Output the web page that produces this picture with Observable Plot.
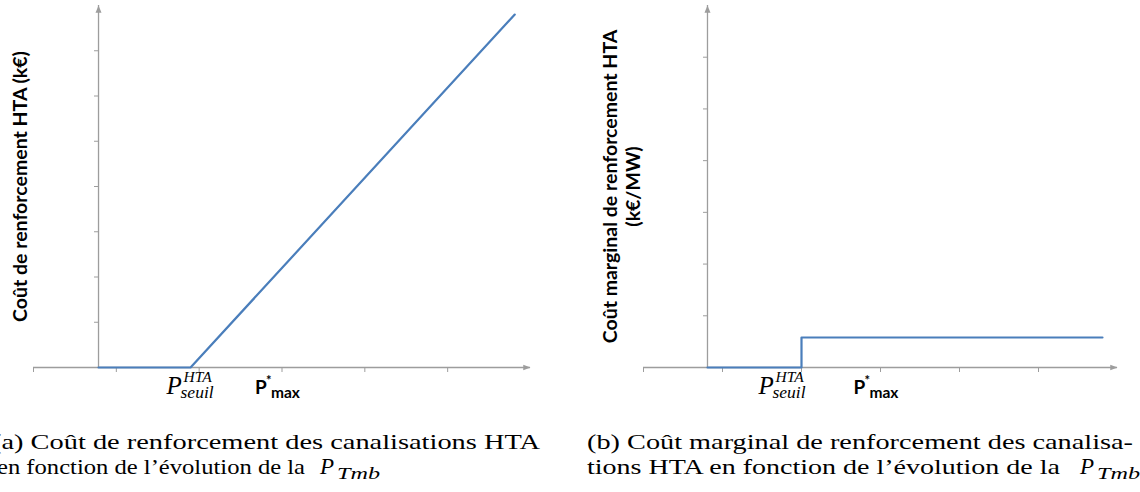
<!DOCTYPE html>
<html><head><meta charset="utf-8">
<script src="https://cdn.jsdelivr.net/npm/d3@7"></script>
<script src="https://cdn.jsdelivr.net/npm/@observablehq/plot@0.6"></script>
<style>
html,body{margin:0;padding:0;background:#fff;}
#wrap{position:relative;width:1140px;height:492px;overflow:hidden;background:#fff;}
#wrap svg{position:absolute;top:0;}
</style></head><body><div id="wrap"></div>
<script>
// ---- data (axis units: one unit = one tick interval) ----
const xTicks = [0, 1, 2, 3, 4, 5];
const pMaxTick = 3;

const leftYTicks = [0, 1, 2, 3, 4, 5, 6, 7];
const leftXMax = 6, leftYMax = 8;
const leftYAxisAt = 0.785;
const leftCostX = [0.785, 1.896, 5.81];
const leftCostY = [0, 0, 7.8];
const leftSeuilLabel = 1.896;
const leftTitle = "Coût de renforcement HTA (k€)";

const rightYTicks = [0, 1, 2, 3, 4, 5, 6];
const rightXMax = 6, rightYMax = 7;
const rightYAxisAt = 0.81;
const rightCostX = [0.81, 2.0, 5.81];
const rightCostY = [0, 0.58, 0.58];
const rightSeuilLabel = 1.76;
const rightTitle = "Coût marginal de renforcement HTA\n(k€/MW)";

const captionA = ["(a) Coût de renforcement des canalisations HTA", "en fonction de l’évolution de la"];
const captionB = ["(b) Coût marginal de renforcement des canalisa-", "tions HTA en fonction de l’évolution de la"];
const captionMath = ["P", "Tmb"];

// ---- styles ----
const axisColor = "#9d9d9d";
const lineColor = "#4a7ebb";
const sans = "Lato, 'Open Sans', sans-serif";
const serif = "'Liberation Serif', 'DejaVu Serif', serif";

const arrowRight = {draw(c, size) { const k = Math.sqrt(size / Math.PI); c.moveTo(0, 0); c.lineTo(-2.9 * k, -1.1 * k); c.lineTo(-2.9 * k, 1.1 * k); c.closePath(); }};
const arrowUp = {draw(c, size) { const k = Math.sqrt(size / Math.PI); c.moveTo(0, 0); c.lineTo(-1.2 * k, 2.9 * k); c.lineTo(1.2 * k, 2.9 * k); c.closePath(); }};

function panel(o) {
  const pts = o.xs.map((x, i) => ({x, y: o.ys[i]}));
  return Plot.plot({
    width: 570, height: 410,
    marginLeft: o.marginLeft, marginRight: o.marginRight, marginTop: 5, marginBottom: 43,
    x: {domain: [0, o.xMax], axis: null},
    y: {domain: [0, o.yMax], axis: null},
    style: {background: "transparent", overflow: "visible"},
    marks: [
      Plot.ruleY([0], {x1: 0, x2: o.xMax, stroke: axisColor, strokeWidth: 1.3}),
      Plot.ruleX([o.yAxisAt], {y1: 0, y2: o.yMax, stroke: axisColor, strokeWidth: 1.3}),
      Plot.ruleX(xTicks, {x: d => d, y1: 0, y2: 0, insetTop: 0, insetBottom: -5, stroke: axisColor, strokeWidth: 1}),
      Plot.ruleY(o.yTicks, {y: d => d, x1: o.yAxisAt, x2: o.yAxisAt, insetLeft: -4, stroke: axisColor, strokeWidth: 1}),
      Plot.dot([o.xMax], {x: d => d, y: 0, symbol: arrowRight, r: 2.5, fill: axisColor, stroke: null}),
      Plot.dot([o.yMax], {x: o.yAxisAt, y: d => d, symbol: arrowUp, r: 2.5, fill: axisColor, stroke: null}),
      Plot.line(pts, {x: "x", y: "y", stroke: lineColor, strokeWidth: 2.2, curve: o.curve}),
      // P_seuil^HTA
      Plot.text(["P"], {x: o.seuil, y: 0, dx: -24, dy: 26, textAnchor: "start", lineAnchor: "bottom", fontFamily: serif, fontStyle: "italic", fontSize: 25, fill: "#000"}),
      Plot.text(["HTA"], {x: o.seuil, y: 0, dx: -7, dy: 14, textAnchor: "start", lineAnchor: "bottom", fontFamily: serif, fontStyle: "italic", fontSize: 15.5, fill: "#000"}),
      Plot.text(["seuil"], {x: o.seuil, y: 0, dx: -10, dy: 30, textAnchor: "start", lineAnchor: "bottom", fontFamily: serif, fontStyle: "italic", fontSize: 17.5, fill: "#000"}),
      // P*max
      Plot.text(["P"], {x: pMaxTick, y: 0, dx: -27, dy: 26, textAnchor: "start", lineAnchor: "bottom", fontFamily: sans, fontWeight: "bold", fontSize: 19, fill: "#000"}),
      Plot.text(["*"], {x: pMaxTick, y: 0, dx: -16, dy: 17, textAnchor: "start", lineAnchor: "bottom", fontFamily: sans, fontWeight: "bold", fontSize: 13, fill: "#000"}),
      Plot.text(["max"], {x: pMaxTick, y: 0, dx: -11, dy: 30, textAnchor: "start", lineAnchor: "bottom", fontFamily: sans, fontWeight: "bold", fontSize: 15.5, fill: "#000"}),
      // y title
      Plot.text([o.title], {frameAnchor: "left", dx: o.titleDx, rotate: -90, textAnchor: "middle", lineAnchor: "middle", lineHeight: 1.15, fontFamily: sans, fontWeight: "bold", fontSize: 19.5, fill: "#000"})
    ]
  });
}

const wrap = document.getElementById("wrap");

const left = panel({marginLeft: 33, marginRight: 40, xMax: leftXMax, yMax: leftYMax, yTicks: leftYTicks, yAxisAt: leftYAxisAt,
  xs: leftCostX, ys: leftCostY, curve: "linear", seuil: leftSeuilLabel, title: leftTitle, titleDx: -14});
left.style.left = "0px";
wrap.appendChild(left);

const right = panel({marginLeft: 73, marginRight: 23, xMax: rightXMax, yMax: rightYMax, yTicks: rightYTicks, yAxisAt: rightYAxisAt,
  xs: rightCostX, ys: rightCostY, curve: "step-after", seuil: rightSeuilLabel, title: rightTitle, titleDx: -22});
right.style.left = "570px";
wrap.appendChild(right);

// ---- captions ----
const cap = d3.select(wrap).append("svg").attr("width", 1140).attr("height", 492)
  .style("left", "0px").style("pointer-events", "none")
  .attr("font-family", serif).attr("fill", "#000");

function capLine(txt, x, y, len, size) {
  cap.append("text").attr("x", x).attr("y", y).attr("font-size", size)
    .attr("textLength", len).attr("lengthAdjust", "spacingAndGlyphs").text(txt);
}
capLine(captionA[0], -8, 449, 548, 22);
capLine(captionA[1], -3, 474, 308, 22);
capLine(captionB[0], 587, 449, 546, 22);
capLine(captionB[1], 587, 474, 473, 22);

function capMath(x, y) {
  cap.append("text").attr("x", x).attr("y", y).attr("font-size", 23).attr("font-style", "italic").text(captionMath[0]);
  cap.append("text").attr("x", x + 17).attr("y", y + 5).attr("font-size", 17).attr("font-style", "italic")
    .attr("textLength", 43).attr("lengthAdjust", "spacingAndGlyphs").text(captionMath[1]);
}
capMath(320, 474);
capMath(1080, 474);
</script></body></html>
